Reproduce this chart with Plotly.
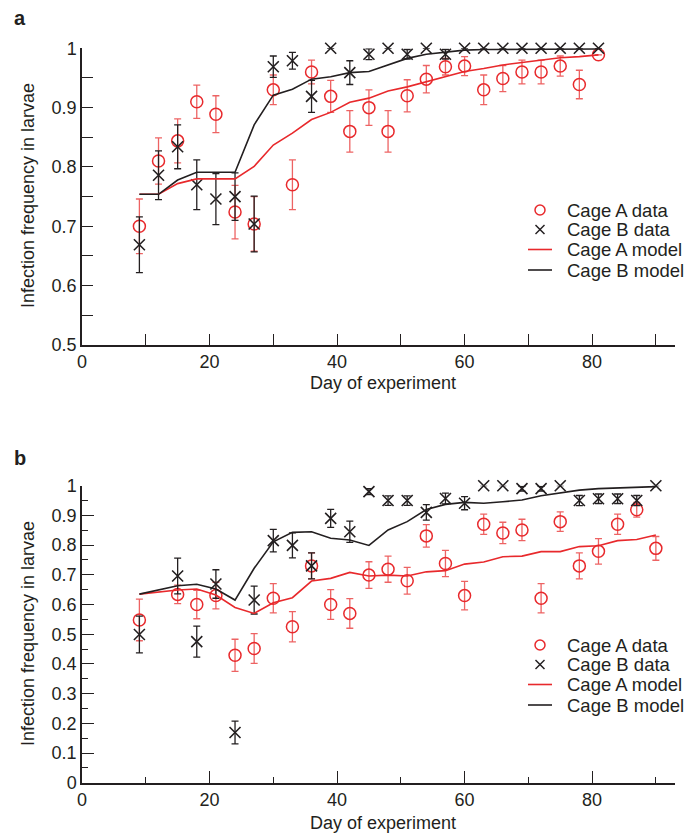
import plotly.graph_objects as go

# ---------------- Panel a data ----------------
days_a = [9, 12, 15, 18, 21, 24, 27, 30, 33, 36, 39, 42, 45, 48, 51, 54, 57, 60, 63, 66, 69, 72, 75, 78, 81]
cageA_a = [0.700, 0.810, 0.844, 0.910, 0.889, 0.724, 0.704, 0.930, 0.770, 0.960, 0.919, 0.860, 0.900,
           0.860, 0.920, 0.948, 0.969, 0.970, 0.930, 0.949, 0.960, 0.960, 0.970, 0.939, 0.989]
cageA_a_err = [0.046, 0.039, 0.037, 0.028, 0.031, 0.045, 0.046, 0.025, 0.042, 0.020, 0.027, 0.035, 0.030,
               0.035, 0.027, 0.023, 0.014, 0.016, 0.025, 0.022, 0.020, 0.020, 0.017, 0.024, 0.0]
cageB_a = [0.669, 0.786, 0.834, 0.770, 0.746, 0.750, 0.704, 0.969, 0.979, 0.919, 1.0, 0.959, 0.990,
           1.0, 0.990, 1.0, 0.990, 1.0, 1.0, 1.0, 1.0, 1.0, 1.0, 1.0, 1.0]
cageB_a_err = [0.047, 0.041, 0.037, 0.042, 0.043, 0.040, 0.047, 0.018, 0.014, 0.027, 0.0, 0.020, 0.009,
               0.0, 0.008, 0.0, 0.008, 0.0, 0.0, 0.0, 0.0, 0.0, 0.0, 0.0, 0.0]
modelA_a = [0.754, 0.754, 0.772, 0.780, 0.780, 0.780, 0.801, 0.837, 0.857, 0.880, 0.892, 0.909, 0.916,
            0.928, 0.935, 0.944, 0.952, 0.961, 0.966, 0.972, 0.976, 0.980, 0.984, 0.986, 0.989]
modelB_a = [0.754, 0.754, 0.778, 0.791, 0.791, 0.791, 0.871, 0.921, 0.931, 0.948, 0.952, 0.959, 0.961,
            0.972, 0.983, 0.990, 0.994, 0.997, 0.998, 0.998, 0.999, 0.999, 0.999, 0.999, 0.999]

# ---------------- Panel b data ----------------
days_b = [9, 15, 18, 21, 24, 27, 30, 33, 36, 39, 42, 45, 48, 51, 54, 57, 60, 63, 66, 69, 72, 75, 78, 81, 84, 87, 90]
cageA_b = [0.548, 0.634, 0.600, 0.630, 0.429, 0.452, 0.621, 0.525, 0.730, 0.600, 0.570, 0.699, 0.719, 0.680,
           0.831, 0.738, 0.630, 0.870, 0.841, 0.851, 0.621, 0.879, 0.730, 0.779, 0.870, 0.919, 0.789]
cageA_b_err = [0.070, 0.031, 0.048, 0.045, 0.054, 0.050, 0.049, 0.051, 0.044, 0.050, 0.050, 0.045, 0.044, 0.045,
               0.038, 0.044, 0.048, 0.034, 0.036, 0.036, 0.049, 0.033, 0.044, 0.043, 0.034, 0.025, 0.040]
cageB_b = [0.499, 0.696, 0.475, 0.669, 0.169, 0.615, 0.815, 0.799, 0.730, 0.890, 0.845, 0.980, 0.950, 0.950,
           0.910, 0.957, 0.941, 1.0, 1.0, 0.990, 0.990, 1.0, 0.950, 0.956, 0.956, 0.950, 1.0]
cageB_b_err = [0.062, 0.060, 0.052, 0.048, 0.038, 0.047, 0.038, 0.042, 0.044, 0.030, 0.036, 0.010, 0.016, 0.016,
               0.026, 0.018, 0.022, 0.0, 0.0, 0.008, 0.008, 0.0, 0.017, 0.016, 0.016, 0.017, 0.0]
modelA_b = [0.635, 0.649, 0.652, 0.632, 0.590, 0.570, 0.606, 0.623, 0.679, 0.688, 0.708, 0.696, 0.699, 0.696,
            0.710, 0.714, 0.736, 0.743, 0.761, 0.763, 0.778, 0.778, 0.795, 0.798, 0.815, 0.819, 0.834]
modelB_b = [0.635, 0.663, 0.668, 0.652, 0.615, 0.722, 0.811, 0.843, 0.845, 0.823, 0.817, 0.799, 0.851, 0.879,
            0.920, 0.937, 0.944, 0.941, 0.946, 0.952, 0.966, 0.976, 0.985, 0.990, 0.992, 0.994, 0.997]

series_names = ["Cage A data", "Cage B data", "Cage A model", "Cage B model"]
x_title = "Day of experiment"
y_title = "Infection frequency in larvae"

RED = "#e8292c"
RED_ERR = "rgba(232,60,60,0.8)"
BLACK = "#231f20"
FONT = "Liberation Sans, Arial, Helvetica, sans-serif"

# the page body has an 8 px margin, so the figure is drawn 8 px smaller and
# positions below are given in window pixels and shifted by that offset
OFF = 8
W, H = 698 - OFF, 834 - OFF

fig = go.Figure()


def add_panel(days, a, a_err, b, b_err, mA, mB, xa, ya):
    fig.add_trace(go.Scatter(
        x=days, y=a, mode="markers", name=series_names[0], xaxis=xa, yaxis=ya, showlegend=False,
        marker=dict(symbol="circle-open", size=12, color=RED, line=dict(width=1.5, color=RED)),
        error_y=dict(type="data", array=a_err, visible=True, color=RED_ERR, thickness=1.3, width=3.5),
        cliponaxis=False))
    fig.add_trace(go.Scatter(
        x=days, y=b, mode="markers", name=series_names[1], xaxis=xa, yaxis=ya, showlegend=False,
        marker=dict(symbol="x-thin-open", size=11, color=BLACK, line=dict(width=1.6, color=BLACK)),
        error_y=dict(type="data", array=b_err, visible=True, color=BLACK, thickness=1.3, width=3.5),
        cliponaxis=False))
    fig.add_trace(go.Scatter(
        x=days, y=mA, mode="lines", name=series_names[2], xaxis=xa, yaxis=ya, showlegend=False,
        line=dict(color=RED, width=1.6), cliponaxis=False))
    fig.add_trace(go.Scatter(
        x=days, y=mB, mode="lines", name=series_names[3], xaxis=xa, yaxis=ya, showlegend=False,
        line=dict(color=BLACK, width=1.6), cliponaxis=False))


add_panel(days_a, cageA_a, cageA_a_err, cageB_a, cageB_a_err, modelA_a, modelB_a, "x", "y")
add_panel(days_b, cageA_b, cageA_b_err, cageB_b, cageB_b_err, modelA_b, modelB_b, "x2", "y2")


def px_x(v):
    return (v - OFF) / W


def px_y(v):
    return 1 - (v - OFF) / H


xdom = [px_x(82), px_x(675)]
ya_dom = [px_y(345), px_y(48.3)]
yb_dom = [px_y(782.7), px_y(485.7)]

tickfont = dict(family=FONT, size=18, color=BLACK)


def xaxis(anchor, minor_len, major_len):
    return dict(domain=xdom, anchor=anchor, range=[0, 93], showgrid=False, zeroline=False,
                showline=True, linecolor=BLACK, linewidth=1.5, automargin=False,
                ticks="inside", tick0=0, dtick=20, ticklen=major_len, tickwidth=1, tickcolor=BLACK,
                minor=dict(ticks="inside", dtick=10, ticklen=minor_len, tickwidth=1, tickcolor=BLACK),
                tickfont=tickfont)


def yaxis(anchor, dom, rng, minor_len, major_len):
    return dict(domain=dom, anchor=anchor, range=rng, showgrid=False, zeroline=False,
                showline=True, linecolor=BLACK, linewidth=1.5, automargin=False,
                ticks="inside", tick0=0, dtick=0.1, ticklen=major_len, tickwidth=1, tickcolor=BLACK,
                minor=dict(ticks="inside", dtick=0.05, ticklen=minor_len, tickwidth=1, tickcolor=BLACK),
                tickfont=tickfont)


annotations = [
    dict(text="<b>a</b>", x=px_x(12), y=px_y(18)),
    dict(text="<b>b</b>", x=px_x(12), y=px_y(458)),
]
for a in annotations:
    a.update(xref="paper", yref="paper", showarrow=False, xanchor="left", yanchor="middle",
             font=dict(family=FONT, size=20, color=BLACK))
for yy in (383, 823):
    annotations.append(dict(text=x_title, x=px_x(383), y=px_y(yy), xref="paper", yref="paper",
                            showarrow=False, xanchor="center", yanchor="middle",
                            font=dict(family=FONT, size=18, color=BLACK)))
for yy in (196, 634):
    annotations.append(dict(text=y_title, x=px_x(28), y=px_y(yy), xref="paper", yref="paper", textangle=-90,
                            showarrow=False, xanchor="center", yanchor="middle",
                            font=dict(family=FONT, size=18, color=BLACK)))

shapes = []
# manual legends (key symbols + labels)
for rows in ([210, 229.5, 249.5, 270], [645, 664.5, 684.5, 705]):
    cx = 540
    for name, ry in zip(series_names, rows):
        annotations.append(dict(text=name, x=px_x(565), y=px_y(ry), xref="paper", yref="paper",
                                showarrow=False, xanchor="left", yanchor="middle",
                                font=dict(family=FONT, size=18.5, color=BLACK)))
    r0, r1, r2, r3 = rows
    shapes.append(dict(type="circle", xref="paper", yref="paper",
                       x0=px_x(cx - 5), x1=px_x(cx + 5), y0=px_y(r0 + 5), y1=px_y(r0 - 5),
                       line=dict(color=RED, width=1.5)))
    for (dx0, dy0, dx1, dy1) in ((-4.5, -4.5, 4.5, 4.5), (-4.5, 4.5, 4.5, -4.5)):
        shapes.append(dict(type="line", xref="paper", yref="paper",
                           x0=px_x(cx + dx0), y0=px_y(r1 + dy0), x1=px_x(cx + dx1), y1=px_y(r1 + dy1),
                           line=dict(color=BLACK, width=1.5)))
    shapes.append(dict(type="line", xref="paper", yref="paper", x0=px_x(528), x1=px_x(552),
                       y0=px_y(r2), y1=px_y(r2), line=dict(color=RED, width=1.6)))
    shapes.append(dict(type="line", xref="paper", yref="paper", x0=px_x(528), x1=px_x(552),
                       y0=px_y(r3), y1=px_y(r3), line=dict(color=BLACK, width=1.6)))

fig.update_layout(
    width=W, height=H, margin=dict(l=0, r=0, t=0, b=0, autoexpand=False),
    paper_bgcolor="white", plot_bgcolor="white",
    font=dict(family=FONT, color=BLACK),
    showlegend=False,
    xaxis=xaxis("y", 11, 11),
    yaxis=yaxis("x", ya_dom, [0.5, 1.0], 11, 11),
    xaxis2=xaxis("y2", 6, 12),
    yaxis2=yaxis("x2", yb_dom, [0, 1.0], 6, 12),
    annotations=annotations,
    shapes=shapes,
)

fig.write_html("out.html")
